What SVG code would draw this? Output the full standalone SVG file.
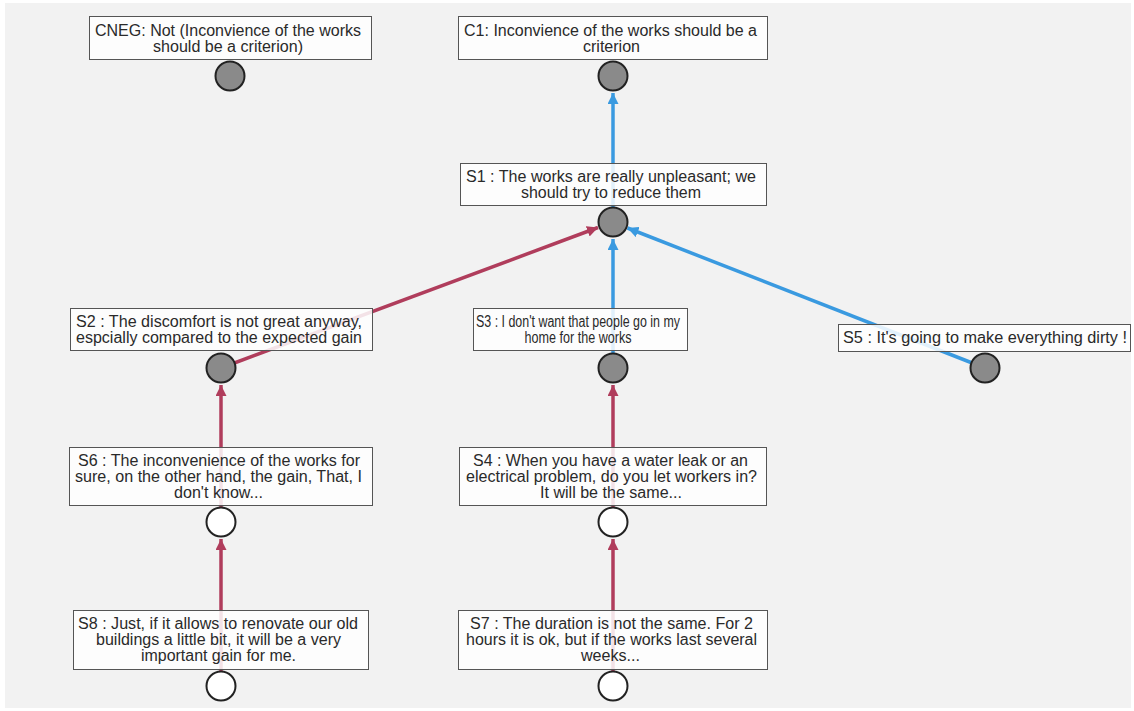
<svg xmlns="http://www.w3.org/2000/svg" width="1134" height="711" viewBox="0 0 1134 711">
<style>
.box{fill:#fff;fill-opacity:0.85;stroke:#555;stroke-width:1}
.t{font-family:"Liberation Sans",Arial,sans-serif;font-size:16px;fill:#2a2a2a;text-anchor:middle}
.c{stroke:#222;stroke-width:2}
.g{fill:#8a8a8a}
.w{fill:#fff}
.sup{stroke:#3a9ae0;stroke-width:3.5;fill:none}
.att{stroke:#b03d5c;stroke-width:3.5;fill:none}
</style>
<defs>
<marker id="ab" viewBox="0 0 10 10" refX="10" refY="5" markerUnits="userSpaceOnUse" markerWidth="11" markerHeight="11" orient="auto"><path d="M0,0 L10,5 L0,10 z" fill="#3a9ae0"/></marker>
<marker id="ar" viewBox="0 0 10 10" refX="10" refY="5" markerUnits="userSpaceOnUse" markerWidth="11" markerHeight="11" orient="auto"><path d="M0,0 L10,5 L0,10 z" fill="#b03d5c"/></marker>
</defs>
<rect x="0" y="0" width="1134" height="711" fill="#fff"/>
<rect x="5" y="3" width="1126" height="705" fill="#f2f2f2"/>
<g id="connectors">
<line class="sup" x1="613" y1="222" x2="613" y2="93" marker-end="url(#ab)"/>
<line class="att" x1="221" y1="368" x2="598" y2="227.5" marker-end="url(#ar)"/>
<line class="sup" x1="613" y1="368" x2="613" y2="239" marker-end="url(#ab)"/>
<line class="sup" x1="985" y1="368" x2="627.5" y2="228" marker-end="url(#ab)"/>
<line class="att" x1="221" y1="522" x2="221" y2="385" marker-end="url(#ar)"/>
<line class="att" x1="221" y1="686" x2="221" y2="539" marker-end="url(#ar)"/>
<line class="att" x1="613" y1="522" x2="613" y2="385" marker-end="url(#ar)"/>
<line class="att" x1="613" y1="686" x2="613" y2="539" marker-end="url(#ar)"/>
</g>
<g id="CNEG">
<rect class="box" x="89.5" y="16.5" width="282" height="43"/>
<text class="t" x="228" y="36" textLength="266" lengthAdjust="spacingAndGlyphs">CNEG: Not (Inconvience of the works</text>
<text class="t" x="228" y="52" textLength="150" lengthAdjust="spacingAndGlyphs">should be a criterion)</text>
<circle class="c g" cx="230" cy="76" r="14.5"/>
</g>
<g id="C1">
<rect class="box" x="458.5" y="16.5" width="309" height="43"/>
<text class="t" x="610.5" y="36" textLength="293" lengthAdjust="spacingAndGlyphs">C1: Inconvience of the works should be a</text>
<text class="t" x="611.5" y="52" textLength="57" lengthAdjust="spacingAndGlyphs">criterion</text>
<circle class="c g" cx="613" cy="76" r="14.5"/>
</g>
<g id="S1">
<rect class="box" x="460.5" y="163.5" width="306" height="42"/>
<text class="t" x="611" y="182" textLength="290" lengthAdjust="spacingAndGlyphs">S1 : The works are really unpleasant; we</text>
<text class="t" x="611" y="198" textLength="180" lengthAdjust="spacingAndGlyphs">should try to reduce them</text>
<circle class="c g" cx="613" cy="222" r="14.5"/>
</g>
<g id="S2">
<rect class="box" x="70.5" y="308.5" width="302" height="42"/>
<text class="t" x="219" y="327" textLength="286" lengthAdjust="spacingAndGlyphs">S2 : The discomfort is not great anyway,</text>
<text class="t" x="219" y="343" textLength="286" lengthAdjust="spacingAndGlyphs">espcially compared to the expected gain</text>
<circle class="c g" cx="221" cy="368" r="14.5"/>
</g>
<g id="S3">
<rect class="box" x="473.5" y="308.5" width="214" height="42"/>
<text class="t" x="578" y="327" textLength="204" lengthAdjust="spacingAndGlyphs">S3 : I don't want that people go in my</text>
<text class="t" x="578" y="343" textLength="107" lengthAdjust="spacingAndGlyphs">home for the works</text>
<circle class="c g" cx="613" cy="368" r="14.5"/>
</g>
<g id="S5">
<rect class="box" x="838.5" y="324.5" width="292" height="27"/>
<text class="t" x="985" y="343" textLength="284" lengthAdjust="spacingAndGlyphs">S5 : It's going to make everything dirty !</text>
<circle class="c g" cx="985" cy="368" r="14.5"/>
</g>
<g id="S6">
<rect class="box" x="69.5" y="447.5" width="303" height="58"/>
<text class="t" x="219" y="466" textLength="282" lengthAdjust="spacingAndGlyphs">S6 : The inconvenience of the works for</text>
<text class="t" x="218.5" y="482" textLength="287" lengthAdjust="spacingAndGlyphs">sure, on the other hand, the gain, That, I</text>
<text class="t" x="218.5" y="498" textLength="89" lengthAdjust="spacingAndGlyphs">don't know...</text>
<circle class="c w" cx="221" cy="522" r="14.5"/>
</g>
<g id="S4">
<rect class="box" x="459.5" y="447.5" width="307" height="58"/>
<text class="t" x="610.5" y="466" textLength="275" lengthAdjust="spacingAndGlyphs">S4 : When you have a water leak or an</text>
<text class="t" x="611.5" y="482" textLength="291" lengthAdjust="spacingAndGlyphs">electrical problem, do you let workers in?</text>
<text class="t" x="611" y="498" textLength="142" lengthAdjust="spacingAndGlyphs">It will be the same...</text>
<circle class="c w" cx="613" cy="522" r="14.5"/>
</g>
<g id="S8">
<rect class="box" x="73.5" y="610.5" width="295" height="59"/>
<text class="t" x="218" y="629" textLength="280" lengthAdjust="spacingAndGlyphs">S8 : Just, if it allows to renovate our old</text>
<text class="t" x="218.5" y="645" textLength="245" lengthAdjust="spacingAndGlyphs">buildings a little bit, it will be a very</text>
<text class="t" x="218.5" y="661" textLength="155" lengthAdjust="spacingAndGlyphs">important gain for me.</text>
<circle class="c w" cx="221" cy="686" r="14.5"/>
</g>
<g id="S7">
<rect class="box" x="458.5" y="610.5" width="309" height="59"/>
<text class="t" x="611.5" y="629" textLength="283" lengthAdjust="spacingAndGlyphs">S7 : The duration is not the same. For 2</text>
<text class="t" x="611.5" y="645" textLength="291" lengthAdjust="spacingAndGlyphs">hours it is ok, but if the works last several</text>
<text class="t" x="610.5" y="661" textLength="59" lengthAdjust="spacingAndGlyphs">weeks...</text>
<circle class="c w" cx="613" cy="686" r="14.5"/>
</g>
</svg>
